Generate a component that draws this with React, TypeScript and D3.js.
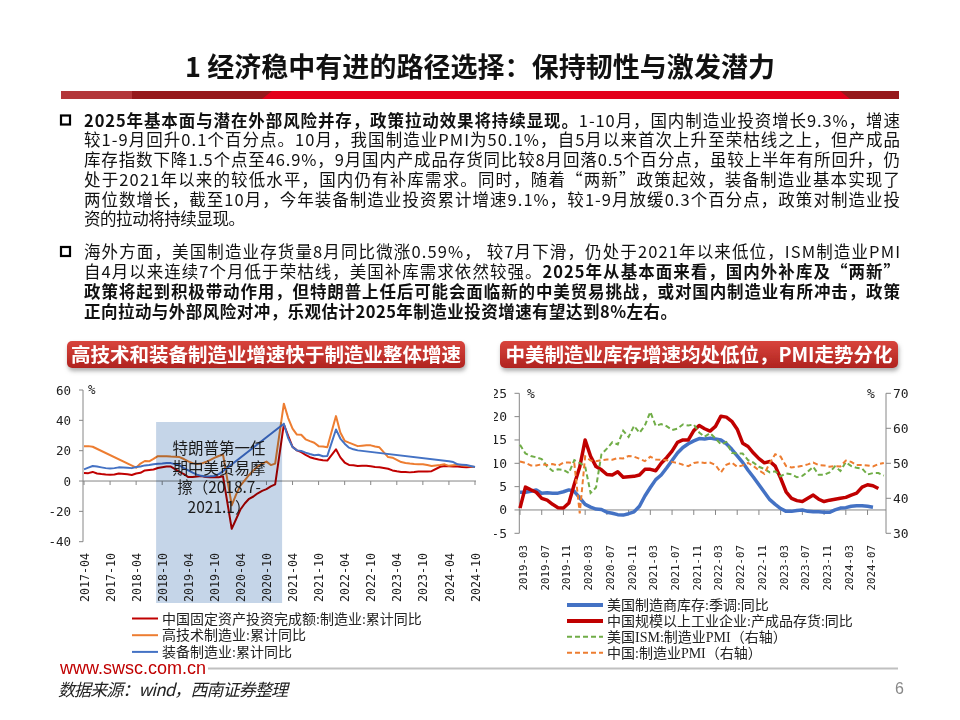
import * as d3 from "d3";

const SANS = '"Noto Sans CJK SC", "Noto Sans", sans-serif';
const MONO = '"DejaVu Sans Mono", monospace';
const SERIF = '"Liberation Serif", "Noto Sans CJK SC", serif';
const AXIS = "#868686";

// ---------- left chart: cumulative YoY, %
const leftTickLabels = [
  "2017-04", "2017-10", "2018-04", "2018-10", "2019-04", "2019-10", "2020-04", "2020-10",
  "2021-04", "2021-10", "2022-04", "2022-10", "2023-04", "2023-10", "2024-04", "2024-10",
];
const leftYTicks = [60, 40, 20, 0, -20, -40];

const fixedInvest: [string, number][] = [
  ["2017-04", 5.3], ["2017-05", 5.2], ["2017-06", 6.0], ["2017-07", 5.0], ["2017-08", 4.6], ["2017-09", 4.3],
  ["2017-10", 4.2], ["2017-11", 4.3], ["2017-12", 5.0], ["2018-02", 4.5], ["2018-03", 4.0], ["2018-04", 5.0],
  ["2018-05", 5.4], ["2018-06", 7.0], ["2018-07", 7.3], ["2018-08", 7.6], ["2018-09", 8.6], ["2018-10", 9.1],
  ["2018-11", 9.5], ["2018-12", 9.5], ["2019-02", 6.0], ["2019-03", 4.6], ["2019-04", 2.6], ["2019-05", 2.7],
  ["2019-06", 3.0], ["2019-07", 3.3], ["2019-08", 2.6], ["2019-09", 2.5], ["2019-10", 2.6], ["2019-11", 2.5],
  ["2019-12", 3.1], ["2020-02", -31.5], ["2020-03", -25.2], ["2020-04", -18.8], ["2020-05", -14.8],
  ["2020-06", -11.7], ["2020-07", -10.2], ["2020-08", -8.1], ["2020-09", -6.5], ["2020-10", -5.3],
  ["2020-11", -3.5], ["2020-12", -2.2], ["2021-02", 37.3], ["2021-03", 29.8], ["2021-04", 22.5],
  ["2021-05", 20.2], ["2021-06", 19.0], ["2021-07", 17.3], ["2021-08", 15.7], ["2021-09", 14.8],
  ["2021-10", 14.2], ["2021-11", 13.7], ["2021-12", 13.5], ["2022-02", 20.9], ["2022-03", 15.6],
  ["2022-04", 12.2], ["2022-05", 10.6], ["2022-06", 10.4], ["2022-07", 9.9], ["2022-08", 10.0],
  ["2022-09", 10.1], ["2022-10", 9.7], ["2022-11", 9.3], ["2022-12", 9.1], ["2023-02", 8.1], ["2023-03", 7.0],
  ["2023-04", 6.4], ["2023-05", 6.0], ["2023-06", 6.0], ["2023-07", 5.7], ["2023-08", 5.9], ["2023-09", 6.2],
  ["2023-10", 6.2], ["2023-11", 6.3], ["2023-12", 6.5], ["2024-02", 9.4], ["2024-03", 9.9], ["2024-04", 9.7],
  ["2024-05", 9.6], ["2024-06", 9.5], ["2024-07", 9.3], ["2024-08", 9.1], ["2024-09", 9.2], ["2024-10", 9.3],
];

const hiTech: [string, number][] = [
  ["2017-04", 23.0], ["2017-05", 23.0], ["2017-06", 22.6], ["2018-04", 8.8], ["2018-05", 11.5],
  ["2018-06", 13.2], ["2018-07", 13.0], ["2018-08", 14.6], ["2018-09", 16.4], ["2018-10", 16.3],
  ["2018-11", 16.4], ["2018-12", 16.1], ["2019-02", 15.8], ["2019-03", 14.5], ["2019-04", 13.0],
  ["2019-05", 11.8], ["2019-06", 11.2], ["2019-07", 11.5], ["2019-08", 12.5], ["2019-09", 13.8],
  ["2019-10", 15.2], ["2019-11", 16.5], ["2019-12", 17.5], ["2020-02", -16.0], ["2020-03", -9.0],
  ["2020-04", -3.0], ["2020-05", 0.5], ["2020-06", 4.0], ["2020-07", 7.0], ["2020-08", 9.5], ["2020-09", 11.5],
  ["2020-10", 12.8], ["2020-11", 10.5], ["2020-12", 11.5], ["2021-02", 51.0], ["2021-03", 41.5],
  ["2021-04", 34.5], ["2021-05", 30.6], ["2021-06", 30.5], ["2021-07", 27.5], ["2021-08", 26.3],
  ["2021-09", 25.2], ["2021-10", 23.0], ["2021-11", 22.8], ["2021-12", 22.2], ["2022-02", 42.8],
  ["2022-03", 32.0], ["2022-04", 26.5], ["2022-05", 25.3], ["2022-06", 24.2], ["2022-07", 23.0],
  ["2022-08", 23.3], ["2022-09", 23.5], ["2022-10", 23.5], ["2022-11", 22.8], ["2022-12", 22.2],
  ["2023-02", 15.8], ["2023-03", 15.4], ["2023-04", 14.0], ["2023-05", 12.5], ["2023-06", 11.9],
  ["2023-07", 11.5], ["2023-08", 11.2], ["2023-09", 11.0], ["2023-10", 11.0], ["2023-11", 10.5],
  ["2023-12", 9.9], ["2024-02", 10.5], ["2024-03", 11.0], ["2024-04", 10.0], ["2024-05", 10.4],
  ["2024-06", 10.8], ["2024-07", 10.2], ["2024-08", 10.0], ["2024-09", 9.5], ["2024-10", 9.2],
];

const equipment: [string, number][] = [
  ["2017-04", 7.7], ["2017-05", 8.8], ["2017-06", 9.9], ["2017-07", 9.5], ["2017-08", 9.0], ["2017-09", 8.5],
  ["2017-10", 8.2], ["2017-11", 8.5], ["2017-12", 9.0], ["2018-02", 8.8], ["2018-03", 8.5], ["2018-04", 9.2],
  ["2018-05", 9.6], ["2018-06", 10.3], ["2018-07", 10.6], ["2018-08", 11.0], ["2018-09", 11.4],
  ["2018-10", 11.6], ["2018-11", 11.9], ["2018-12", 11.8], ["2019-02", 10.3], ["2019-03", 8.5],
  ["2019-04", 7.0], ["2019-05", 5.5], ["2019-06", 4.2], ["2019-07", 3.4], ["2019-08", 3.0], ["2019-09", 3.1],
  ["2019-10", 3.3], ["2019-11", 4.5], ["2019-12", 6.4], ["2021-02", 37.8], ["2021-03", 28.3],
  ["2021-04", 22.4], ["2021-05", 20.2], ["2021-06", 19.8], ["2021-07", 18.7], ["2021-08", 17.8],
  ["2021-09", 17.0], ["2021-10", 17.3], ["2021-11", 16.3], ["2021-12", 16.5], ["2022-02", 34.0],
  ["2022-03", 28.0], ["2022-04", 24.6], ["2022-05", 22.0], ["2022-06", 20.9], ["2022-07", 20.2],
  ["2024-04", 13.0], ["2024-05", 12.5], ["2024-06", 11.0], ["2024-07", 10.8], ["2024-08", 10.5],
  ["2024-09", 9.9], ["2024-10", 9.2],
];

const leftLegend = ["中国固定资产投资完成额:制造业:累计同比", "高技术制造业:累计同比", "装备制造业:累计同比"];
const leftColors = ["#c00000", "#ed7d31", "#4472c4"];
const tradePeriod = ["2018-08", "2021-01"];
const tradeNote = ["特朗普第一任", "期中美贸易摩", "擦（2018.7-", "2021.1）"];

// ---------- right chart: monthly from 2019-03
const rightStart = "2019-03";
const rightTickLabels = [
  "2019-03", "2019-07", "2019-11", "2020-03", "2020-07", "2020-11", "2021-03", "2021-07", "2021-11",
  "2022-03", "2022-07", "2022-11", "2023-03", "2023-07", "2023-11", "2024-03", "2024-07",
];
const rightLeftTicks = [25, 20, 15, 10, 5, 0, -5];
const rightRightTicks = [70, 60, 50, 40, 30];

const usInventory = [
  3.8, 3.8, 4.0, 4.3, 3.6, 3.7, 3.6, 3.6, 3.9, 4.3, 4.0, 2.6, 1.2, 0.6, 0.2, 0.1, -0.5, -0.7, -1.0, -1.1,
  -0.8, -0.4, 0.8, 3.0, 4.8, 6.5, 7.5, 9.0, 10.6, 12.2, 13.4, 14.2, 14.8, 15.3, 15.2, 15.4, 15.2, 15.0, 14.2, 13.0,
  11.6, 10.2, 8.5, 7.0, 5.4, 3.8, 2.2, 1.2, 0.3, -0.3, -0.3, -0.1, 0, -0.3, -0.4, -0.4, -0.5, -0.5, 0.0, 0.4,
  0.5, 0.8, 0.9, 0.9, 0.8, 0.6,
];
const cnInventory = [
  0.4, 4.9, 4.3, 3.8, 2.5, 2.1, 1.2, 0.5, 0.4, 1.5, 5.5, 9.2, 15.0, 11.5, 9.3, 8.6, 7.6, 7.5, 8.2, 7.0,
  7.1, 7.2, 7.5, 8.7, 8.7, 8.4, 10.0, 11.2, 12.6, 14.5, 15.0, 15.0, 17.0, 18.1, 17.4, 16.9, 17.9, 20.1, 19.9, 19.0,
  17.3, 14.3, 13.6, 12.2, 11.0, 10.1, 10.4, 9.4, 6.8, 3.9, 2.5, 2.0, 1.8, 2.5, 3.2, 2.3, 1.8, 2.1, 2.3, 2.5,
  2.7, 3.2, 3.6, 4.9, 5.4, 5.2, 4.6,
];
const usIsmPmi = [
  55.3, 52.8, 52.1, 51.7, 51.2, 49.1, 47.8, 48.3, 48.1, 47.2,
  50.9, 50.1, 49.1, 41.5, 43.1, 52.6, 54.2, 56.0, 55.4, 59.3, 57.5, 60.7,
  58.7, 60.8, 64.7, 60.7, 61.2, 60.6, 59.5, 59.9, 61.1, 60.8, 61.1, 58.8,
  57.6, 58.6, 57.1, 55.4, 56.1, 53.0, 52.8, 52.8, 50.9, 50.2, 49.0, 48.4,
  47.4, 47.7, 46.3, 47.1, 46.9, 46.0, 46.4, 47.6, 49.0, 46.7, 46.7, 47.4,
  49.1, 47.8, 50.3, 49.2, 48.7, 48.5, 46.8, 47.2, 47.2, 46.5,
];
const cnPmi = [
  50.5, 50.1, 49.4, 49.4, 49.7, 49.5, 49.8, 49.3, 50.2, 50.2,
  50.0, 35.7, 52.0, 50.8, 50.6, 50.9, 51.1, 51.0, 51.5, 51.4, 52.1, 51.9,
  51.3, 50.6, 51.9, 51.1, 51.0, 50.9, 50.4, 50.1, 49.6, 49.2, 50.1, 50.3,
  50.1, 50.2, 49.5, 47.4, 49.6, 50.2, 49.0, 49.4, 50.1, 49.2, 48.0, 47.0,
  50.1, 52.6, 51.9, 49.2, 48.8, 49.0, 49.3, 49.7, 50.2, 49.5, 49.4, 49.0,
  49.2, 49.1, 50.8, 50.4, 49.5, 49.5, 49.4, 49.1, 49.8, 50.1,
];
const rightLegend = ["美国制造商库存:季调:同比", "中国规模以上工业企业:产成品存货:同比", "美国ISM:制造业PMI（右轴）", "中国:制造业PMI（右轴）"];

// ---------- slide text
type Seg = [string, boolean];
const para1: Seg[][] = [
  [["2025年基本面与潜在外部风险并存，政策拉动效果将持续显现。", true], ["1-10月，国内制造业投资增长9.3%，增速", false]],
  [["较1-9月回升0.1个百分点。10月，我国制造业PMI为50.1%，自5月以来首次上升至荣枯线之上，但产成品", false]],
  [["库存指数下降1.5个点至46.9%，9月国内产成品存货同比较8月回落0.5个百分点，虽较上半年有所回升，仍", false]],
  [["处于2021年以来的较低水平，国内仍有补库需求。同时，随着“两新”政策起效，装备制造业基本实现了", false]],
  [["两位数增长，截至10月，今年装备制造业投资累计增速9.1%，较1-9月放缓0.3个百分点，政策对制造业投", false]],
  [["资的拉动将持续显现。", false]],
];
const para2: Seg[][] = [
  [["海外方面，美国制造业存货量8月同比微涨0.59%， 较7月下滑，仍处于2021年以来低位，ISM制造业PMI", false]],
  [["自4月以来连续7个月低于荣枯线，美国补库需求依然较强。", false], ["2025年从基本面来看，国内外补库及“两新”", true]],
  [["政策将起到积极带动作用，但特朗普上任后可能会面临新的中美贸易挑战，或对国内制造业有所冲击，政策", true]],
  [["正向拉动与外部风险对冲，乐观估计2025年制造业投资增速有望达到8%左右。", true]],
];

const monthIndex = (s: string, base: string) => {
  const [y, m] = s.split("-").map(Number);
  const [by, bm] = base.split("-").map(Number);
  return (y - by) * 12 + (m - bm);
};

function Paragraph({ lines, y0, step, lastWidth }: { lines: Seg[][]; y0: number; step: number; lastWidth: number }) {
  return (
    <g>
      {lines.map((segs, i) => (
        <text
          key={i}
          x={84}
          y={y0 + i * step}
          fontSize={16.5}
          fill="#111"
          textLength={i === lines.length - 1 ? lastWidth : 816}
          lengthAdjust="spacing"
        >
          {segs.map(([t, b], j) => (
            <tspan key={j} fontWeight={b ? 700 : 400}>
              {t}
            </tspan>
          ))}
        </text>
      ))}
    </g>
  );
}

function Header({ x, w, text }: { x: number; w: number; text: string }) {
  return (
    <g>
      <rect x={x} y={341} width={w} height={27} rx={5} fill="url(#hdrGrad)" filter="url(#hdrShadow)" />
      <text x={x + w / 2} y={362} textAnchor="middle" fontSize={19.5} fontWeight={700} fill="#fff">
        {text}
      </text>
    </g>
  );
}

function LeftChart() {
  const x = d3.scaleLinear().domain([0, 90]).range([84, 475]);
  const y = d3.scaleLinear().domain([-40, 60]).range([541.7, 390]);
  const mx = (s: string) => x(monthIndex(s, "2017-04"));
  const line = d3
    .line<[string, number]>()
    .x((d) => mx(d[0]))
    .y((d) => y(d[1]));
  const series = [fixedInvest, hiTech, equipment];
  const sx0 = x(monthIndex(tradePeriod[0], "2017-04") + 0.6);
  const sx1 = x(monthIndex(tradePeriod[1], "2017-04") + 0.6);
  return (
    <g>
      <line x1={83} x2={83} y1={y(60)} y2={y(-40)} stroke={AXIS} />
      {leftYTicks.map((v) => (
        <g key={v}>
          <line x1={79} x2={83} y1={y(v)} y2={y(v)} stroke={AXIS} />
          <text x={71} y={y(v) + 4.5} textAnchor="end" fontFamily={MONO} fontSize={12.5} fill="#222">
            {v}
          </text>
        </g>
      ))}
      <text x={88} y={394} fontFamily={MONO} fontSize={12.5} fill="#222">%</text>
      <line x1={83} x2={476} y1={y(0)} y2={y(0)} stroke={AXIS} />
      {leftTickLabels.map((s) => (
        <line key={s} x1={mx(s)} x2={mx(s)} y1={y(0)} y2={y(0) + 4} stroke={AXIS} />
      ))}
      {series.map((d, i) => (
        <path key={i} d={line(d) ?? ""} fill="none" stroke={leftColors[i]} strokeWidth={2} strokeLinejoin="round" />
      ))}
      <rect
        x={sx0}
        y={422}
        width={sx1 - sx0}
        height={181}
        fill="#c5d5e8"
        style={{ mixBlendMode: "multiply" }}
      />
      {leftTickLabels.map((s) => (
        <text
          key={s}
          transform={`translate(${mx(s) + 4.6},553) rotate(-90)`}
          textAnchor="end"
          fontFamily={MONO}
          fontSize={11.6}
          fill="#222"
        >
          {s}
        </text>
      ))}
      {tradeNote.map((t, i) => (
        <text key={i} x={219} y={454 + i * 19.6} textAnchor="middle" fontSize={15.5} fill="#1a1a1a">
          {t}
        </text>
      ))}
      {leftLegend.map((t, i) => (
        <g key={t}>
          <line x1={132} x2={158} y1={618.5 + i * 16.7} y2={618.5 + i * 16.7} stroke={leftColors[i]} strokeWidth={2} />
          <text x={162} y={623.5 + i * 16.7} fontFamily={SERIF} fontSize={14} fill="#222">
            {t}
          </text>
        </g>
      ))}
    </g>
  );
}

function RightChart() {
  const x = d3.scaleLinear().domain([0, 67.4]).range([520, 886]);
  const yl = d3.scaleLinear().domain([-5, 25]).range([533.3, 393.3]);
  const yr = d3.scaleLinear().domain([30, 70]).range([533.3, 393.3]);
  const lineL = d3
    .line<number>()
    .x((_, i) => x(i))
    .y((d) => yl(d));
  const lineR = d3
    .line<number>()
    .x((_, i) => x(i))
    .y((d) => yr(d));
  const legendStyles = [
    { color: "#4472c4", w: 4, dash: undefined },
    { color: "#c00000", w: 4, dash: undefined },
    { color: "#70ad47", w: 2, dash: "5 3" },
    { color: "#ed7d31", w: 2, dash: "5 3" },
  ];
  return (
    <g>
      <defs>
        <clipPath id="rClip">
          <rect x={494} y={380} width={100} height={170} />
        </clipPath>
      </defs>
      <line x1={519.3} x2={519.3} y1={yl(25)} y2={yl(-5)} stroke={AXIS} />
      <g clipPath="url(#rClip)">
        {rightLeftTicks.map((v) => (
          <text key={v} x={507} y={yl(v) + 4.5} textAnchor="end" fontFamily={MONO} fontSize={13} fill="#222">
            {v}
          </text>
        ))}
      </g>
      {rightLeftTicks.map((v) => (
        <line key={v} x1={514.5} x2={519.3} y1={yl(v)} y2={yl(v)} stroke={AXIS} />
      ))}
      <text x={527} y={398} fontFamily={MONO} fontSize={13} fill="#222">%</text>
      <line x1={886} x2={886} y1={yr(70)} y2={yr(30)} stroke={AXIS} />
      {rightRightTicks.map((v) => (
        <g key={v}>
          <line x1={886} x2={891} y1={yr(v)} y2={yr(v)} stroke={AXIS} />
          <text x={893} y={yr(v) + 4.5} fontFamily={MONO} fontSize={13} fill="#222">
            {v}
          </text>
        </g>
      ))}
      <text x={867} y={398} fontFamily={MONO} fontSize={13} fill="#222">%</text>
      <line x1={519.3} x2={886} y1={yl(0)} y2={yl(0)} stroke={AXIS} />
      {rightTickLabels.map((s) => {
        const px = x(monthIndex(s, rightStart));
        return (
          <g key={s}>
            <line x1={px} x2={px} y1={yl(0)} y2={yl(0) + 5} stroke={AXIS} />
            <text
              transform={`translate(${px + 7},545) rotate(-90)`}
              textAnchor="end"
              fontFamily={MONO}
              fontSize={10.8}
              fill="#222"
            >
              {s}
            </text>
          </g>
        );
      })}
      <path d={lineL(usInventory) ?? ""} fill="none" stroke="#4472c4" strokeWidth={3.5} strokeLinejoin="round" />
      <path d={lineL(cnInventory) ?? ""} fill="none" stroke="#c00000" strokeWidth={3.5} strokeLinejoin="round" />
      <path d={lineR(usIsmPmi) ?? ""} fill="none" stroke="#70ad47" strokeWidth={2} strokeDasharray="5 3" />
      <path d={lineR(cnPmi) ?? ""} fill="none" stroke="#ed7d31" strokeWidth={2} strokeDasharray="5 3" />
      {rightLegend.map((t, i) => (
        <g key={t}>
          <line
            x1={567}
            x2={603}
            y1={605 + i * 15.9}
            y2={605 + i * 15.9}
            stroke={legendStyles[i].color}
            strokeWidth={legendStyles[i].w}
            strokeDasharray={legendStyles[i].dash}
          />
          <text x={607} y={610 + i * 15.9} fontFamily={SERIF} fontSize={14} fill="#222">
            {t}
          </text>
        </g>
      ))}
    </g>
  );
}

export default function App() {
  return (
    <svg
      width={960}
      height={720}
      viewBox="0 0 960 720"
      style={{ position: "absolute", left: 0, top: 0, background: "#fff" }}
      fontFamily={SANS}
    >
      <defs>
        <linearGradient id="hdrGrad" x1="0" y1="0" x2="0" y2="1">
          <stop offset="0%" stopColor="#d8453d" />
          <stop offset="100%" stopColor="#b0231f" />
        </linearGradient>
        <filter id="hdrShadow" x="-5%" y="-30%" width="110%" height="180%">
          <feDropShadow dx={1} dy={3} stdDeviation={2} floodColor="#777" floodOpacity={0.6} />
        </filter>
      </defs>
      <rect width={960} height={720} fill="#fff" />

      {/* title + red rule */}
      <text x={480} y={77} textAnchor="middle" fontSize={27} fontWeight={700} fill="#111" textLength={590} lengthAdjust="spacing">
        1 经济稳中有进的路径选择：保持韧性与激发潜力
      </text>
      <rect x={61} y={91} width={838} height={8} fill="#96191b" />
      <rect x={61} y={91} width={71} height={8} fill="#b3373a" />
      <polygon points="262,99 272,91 840,91 850,99" fill="#e3001b" />

      {/* bullets */}
      <rect x={61} y={115.5} width={9} height={9} fill="none" stroke="#000" strokeWidth={2.2} />
      <rect x={61} y={247} width={9} height={9} fill="none" stroke="#000" strokeWidth={2.2} />
      <Paragraph lines={para1} y0={126.5} step={19.75} lastWidth={161} />
      <Paragraph lines={para2} y0={257.5} step={20} lastWidth={593} />

      <Header x={67} w={398} text="高技术和装备制造业增速快于制造业整体增速" />
      <Header x={500} w={398} text="中美制造业库存增速均处低位，PMI走势分化" />

      <LeftChart />
      <RightChart />

      {/* footer */}
      <text x={60} y={674} fontFamily='"Liberation Sans", Arial, sans-serif' fontSize={18} fill="#c00000">
        www.swsc.com.cn
      </text>
      <line x1={208} x2={898} y1={668.5} y2={668.5} stroke="#c0c0c0" strokeWidth={2} />
      <text x={58} y={695.5} fontSize={17} fontStyle="italic" fill="#222" textLength={230} lengthAdjust="spacing">
        数据来源：wind，西南证券整理
      </text>
      <text x={895} y={694} fontFamily='"Liberation Sans", Arial, sans-serif' fontSize={16} fill="#888">
        6
      </text>
    </svg>
  );
}
